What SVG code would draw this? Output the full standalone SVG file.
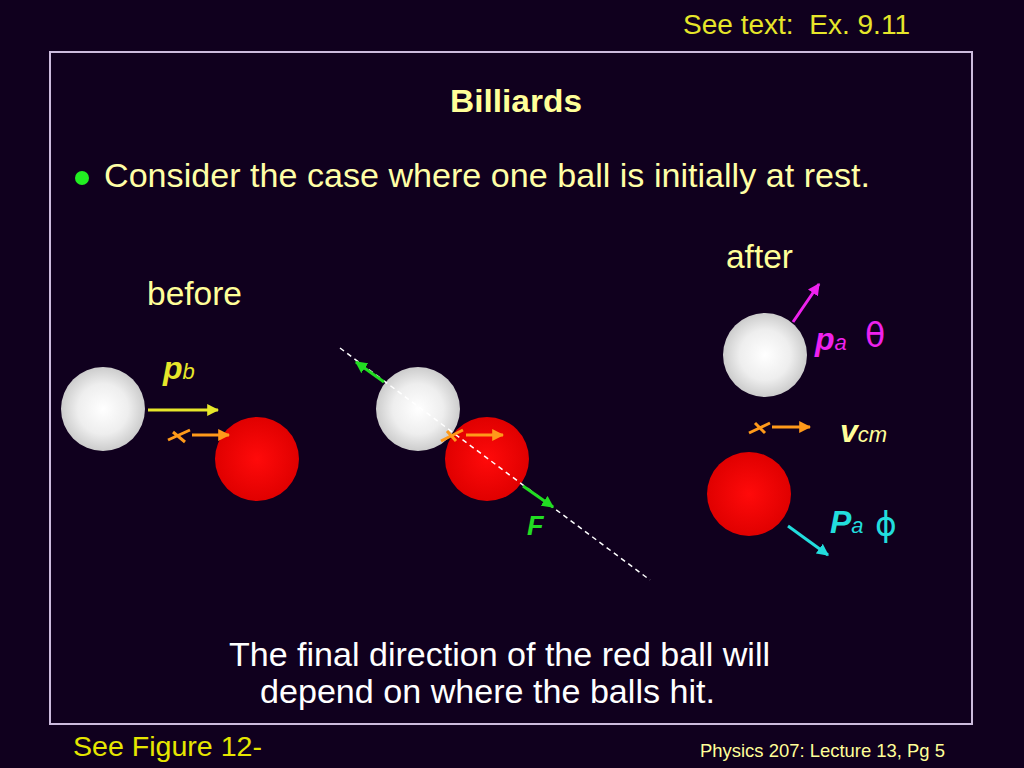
<svg xmlns="http://www.w3.org/2000/svg" width="1024" height="768" viewBox="0 0 1024 768">
<defs>
<radialGradient id="gw" cx="0.5" cy="0.5" r="0.5">
<stop offset="0" stop-color="#ffffff"/>
<stop offset="0.6" stop-color="#eeeeee"/>
<stop offset="1" stop-color="#cccccc"/>
</radialGradient>
<radialGradient id="gr" cx="0.5" cy="0.5" r="0.5">
<stop offset="0" stop-color="#ff0a0a"/>
<stop offset="1" stop-color="#e00000"/>
</radialGradient>
<marker id="mY" viewBox="0 0 10 10" refX="9" refY="5" markerWidth="4" markerHeight="4" orient="auto" markerUnits="strokeWidth"><path d="M0,0 L10,5 L0,10 z" fill="#e6e62a"/></marker>
<marker id="mO" viewBox="0 0 10 10" refX="9" refY="5" markerWidth="4" markerHeight="4" orient="auto" markerUnits="strokeWidth"><path d="M0,0 L10,5 L0,10 z" fill="#ff9a1a"/></marker>
<marker id="mG" viewBox="0 0 10 10" refX="9" refY="5" markerWidth="4" markerHeight="4" orient="auto" markerUnits="strokeWidth"><path d="M0,0 L10,5 L0,10 z" fill="#22dd22"/></marker>
<marker id="mM" viewBox="0 0 10 10" refX="9" refY="5" markerWidth="4" markerHeight="4" orient="auto" markerUnits="strokeWidth"><path d="M0,0 L10,5 L0,10 z" fill="#ee22ee"/></marker>
<marker id="mC" viewBox="0 0 10 10" refX="9" refY="5" markerWidth="4" markerHeight="4" orient="auto" markerUnits="strokeWidth"><path d="M0,0 L10,5 L0,10 z" fill="#22dddd"/></marker>
</defs>
<style>
text{font-family:"Liberation Sans",Arial,sans-serif}
.w{fill:url(#gw)}
.r{fill:url(#gr)}
.ylw{fill:#e6e62a}
.or{stroke:#ff9a1a;stroke-width:3;fill:none}
.lab{font-weight:bold;font-style:italic;font-size:32px}
.sub{font-style:italic;font-size:22px}
.sym{font-family:"DejaVu Sans",sans-serif;font-size:33px}
</style>
<rect x="0" y="0" width="1024" height="768" fill="#10001e"/>
<rect x="50" y="52" width="922" height="672" fill="none" stroke="#ccbbdd" stroke-width="2"/>
<text x="683" y="34" class="ylw" font-size="27" xml:space="preserve" textLength="227" lengthAdjust="spacingAndGlyphs">See text:  Ex. 9.11</text>
<text x="450" y="112" fill="#ffff99" font-size="32" font-weight="bold" textLength="132" lengthAdjust="spacingAndGlyphs">Billiards</text>
<circle cx="82" cy="178" r="7" fill="#22ee22"/>
<text x="104" y="187" fill="#ffffa6" font-size="34" textLength="766" lengthAdjust="spacingAndGlyphs">Consider the case where one ball is initially at rest.</text>
<text x="147" y="305" fill="#ffff99" font-size="33" textLength="95" lengthAdjust="spacingAndGlyphs">before</text>
<text x="726" y="268" fill="#ffff99" font-size="33" textLength="67" lengthAdjust="spacingAndGlyphs">after</text>

<g id="before">
<circle class="w" cx="103" cy="409" r="42"/>
<circle class="r" cx="257" cy="459" r="42"/>
<line x1="148" y1="410" x2="218" y2="410" stroke="#e6e62a" stroke-width="3" marker-end="url(#mY)"/>
<text x="163" y="379" class="ylw"><tspan class="lab">p</tspan><tspan class="sub">b</tspan></text>
<path class="or" d="M168,440 L190,430 M173,432 L185,442"/>
<line class="or" x1="192" y1="435" x2="229" y2="435" marker-end="url(#mO)"/>
</g>

<g id="collision">
<circle class="w" cx="418" cy="409" r="42"/>
<circle class="r" cx="487" cy="459" r="42"/>
<line x1="340" y1="348" x2="650" y2="580" stroke="#ffffff" stroke-width="1.5" stroke-dasharray="5,4"/>
<line x1="384" y1="382" x2="356" y2="362" stroke="#22dd22" stroke-width="3" marker-end="url(#mG)"/>
<line x1="523" y1="486" x2="553" y2="507" stroke="#22dd22" stroke-width="3" marker-end="url(#mG)"/>
<text x="527" y="535" fill="#22dd22" font-weight="bold" font-style="italic" font-size="27">F</text>
<path class="or" d="M441,441 L463,430 M447,431 L456,441"/>
<line class="or" x1="466" y1="435" x2="503" y2="435" marker-end="url(#mO)"/>
</g>

<g id="after">
<circle class="w" cx="765" cy="355" r="42"/>
<circle class="r" cx="749" cy="494" r="42"/>
<line x1="793" y1="322" x2="819" y2="284" stroke="#ee22ee" stroke-width="3" marker-end="url(#mM)"/>
<text x="815" y="350" fill="#ee22ee"><tspan class="lab">p</tspan><tspan class="sub">a</tspan></text>
<text x="865" y="347" fill="#ee22ee" class="sym">θ</text>
<path class="or" d="M749,433 L770,423 M755,423 L765,433"/>
<line class="or" x1="772" y1="427" x2="810" y2="427" marker-end="url(#mO)"/>
<text x="840" y="442" fill="#ffff99"><tspan class="lab">v</tspan><tspan class="sub">cm</tspan></text>
<line x1="788" y1="526" x2="828" y2="555" stroke="#22dddd" stroke-width="3" marker-end="url(#mC)"/>
<text x="830" y="533" fill="#22dddd"><tspan class="lab">P</tspan><tspan class="sub">a</tspan></text>
<text x="875" y="536" fill="#22dddd" class="sym">ϕ</text>
</g>

<text x="229" y="666" fill="#ffffff" font-size="34" textLength="541" lengthAdjust="spacingAndGlyphs">The final direction of the red ball will</text>
<text x="260" y="703" fill="#ffffff" font-size="34" textLength="455" lengthAdjust="spacingAndGlyphs">depend on where the balls hit.</text>
<text x="73" y="756" fill="#e6e600" font-size="28" textLength="189" lengthAdjust="spacingAndGlyphs">See Figure 12-</text>
<text x="700" y="757" fill="#ffff99" font-size="19" textLength="245" lengthAdjust="spacingAndGlyphs">Physics 207: Lecture 13, Pg 5</text>
</svg>
